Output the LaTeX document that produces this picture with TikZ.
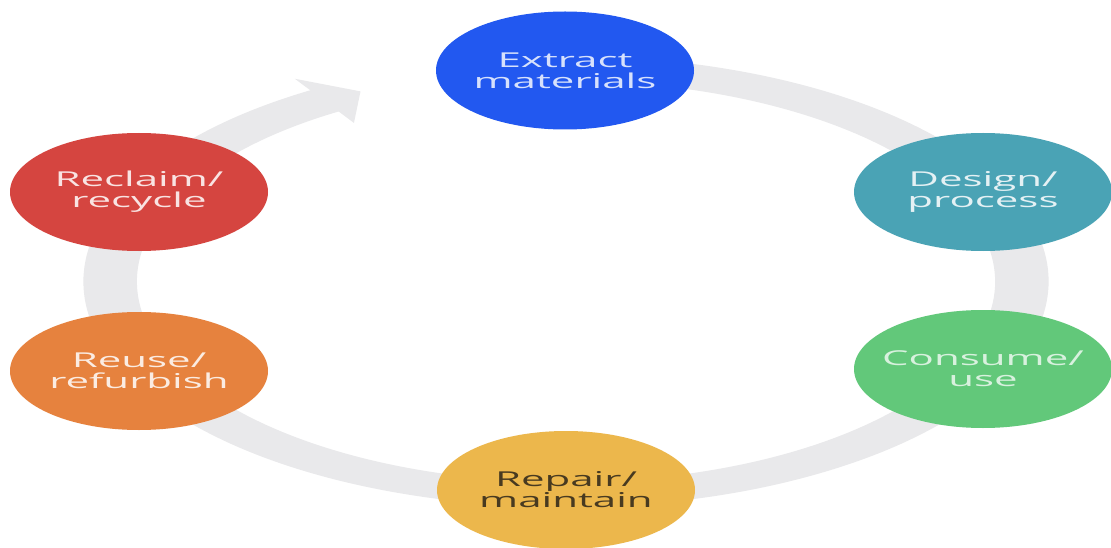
\documentclass[tikz,border=0pt]{standalone}
\usepackage{fontspec}
\usetikzlibrary{shapes.geometric}
\newfontfamily\lblfont[FakeStretch=2.05]{Open Sans}
\definecolor{ringgrey}{RGB}{233,233,235}
\definecolor{cblue}{RGB}{34,88,240}
\definecolor{cteal}{RGB}{74,163,181}
\definecolor{cgreen}{RGB}{98,200,122}
\definecolor{cyellow}{RGB}{236,183,76}
\definecolor{corange}{RGB}{230,130,62}
\definecolor{cred}{RGB}{213,69,64}
\definecolor{darktext}{RGB}{72,58,32}
\tikzset{
  stage/.style={ellipse, minimum width=258pt, minimum height=118pt, inner sep=0pt},
  stagetext/.style={align=center, inner sep=0pt, font=\lblfont\fontsize{20.5}{21}\selectfont},
}
\begin{document}
\begin{tikzpicture}[x=1pt,y=-1pt]
\useasboundingbox (0,0) rectangle (1111,548);
\fill[white] (0,0) rectangle (1111,548);
% cycle ring with arrow
\begin{scope}[shift={(566,281.5)}, xscale=2.14, yscale=-1]
  \fill[ringgrey] (121.5:225.5) arc[start angle=121.5, end angle=460, radius=225.5]
     -- (460:200.5) arc[start angle=460, end angle=121.5, radius=200.5] -- cycle;
  \fill[ringgrey] (122:239) -- (116.8:213) -- (122:187) -- cycle;
\end{scope}
% stages
\node[stage, fill=cblue, label={[stagetext, text=white!82!cblue]center:Extract\\materials}] (extract) at (565,70.5) {};
\node[stage, fill=cteal, label={[stagetext, text=white!85!cteal]center:Design/\\process}] (design) at (983,192) {};
\node[stage, fill=cgreen, label={[stagetext, text=white!75!cgreen]center:Consume/\\use}] (consume) at (983,369) {};
\node[stage, fill=cyellow, label={[stagetext, text=darktext]center:Repair/\\maintain}] (repair) at (566,490) {};
\node[stage, fill=corange, label={[stagetext, text=white!85!corange]center:Reuse/\\refurbish}] (reuse) at (139,371) {};
\node[stage, fill=cred, label={[stagetext, text=white!85!cred]center:Reclaim/\\recycle}] (reclaim) at (139,192) {};
\end{tikzpicture}
\end{document}
